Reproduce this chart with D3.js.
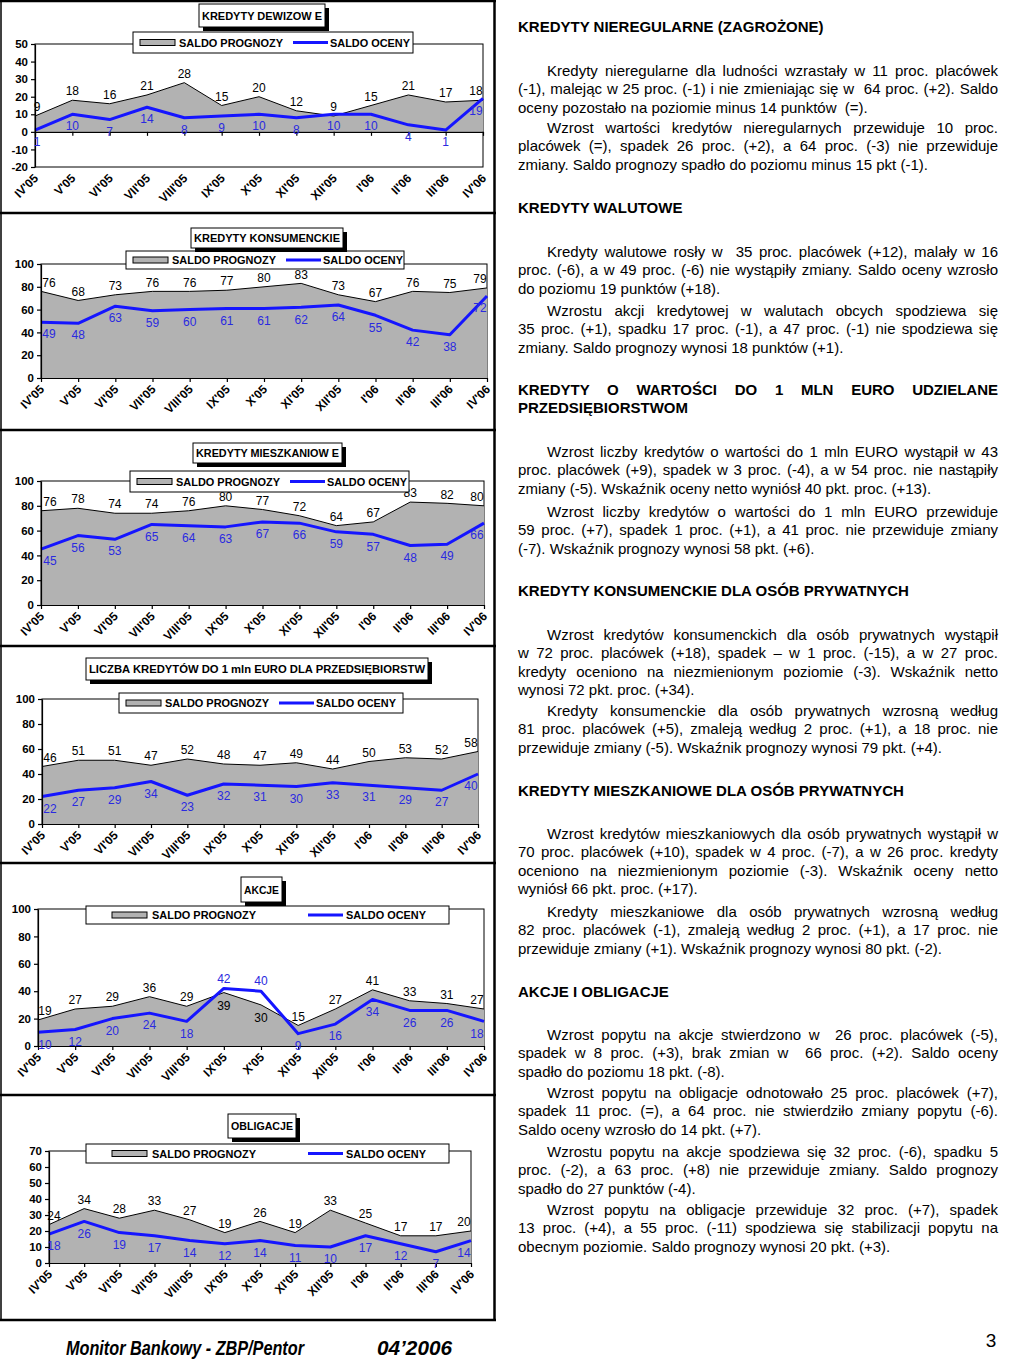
<!DOCTYPE html>
<html>
<head>
<meta charset="utf-8">
<script src="https://cdn.jsdelivr.net/npm/d3@7"></script>
<style>
  body { margin: 0; background: #fff; }
  #wrap { position: relative; width: 1024px; height: 1365px; }
  #page { position: absolute; left: 0; top: 0; }
  .tline {
    position: absolute; left: 518px; width: 480px; height: 18px; line-height: 18px;
    font-family: "Liberation Sans", Arial, sans-serif; font-size: 15px; color: #000;
    white-space: nowrap; text-align: left;
  }
  .tline.just { text-align: justify; text-align-last: justify; }
  .tline.head { font-weight: bold; }
</style>
</head>
<body>
<div id="wrap">
  <svg id="page" width="1024" height="1365"></svg>
</div>
<script>
// =====================================================
// Data
// =====================================================
const months = ["IV'05", "V'05", "VI'05", "VII'05", "VIII'05", "IX'05", "X'05",
                "XI'05", "XII'05", "I'06", "II'06", "III'06", "IV'06"];

const dewizowePrognoza      = [9, 18, 16, 21, 28, 15, 20, 12, 9, 15, 21, 17, 18];
const dewizoweOcena         = [1, 10, 7, 14, 8, 9, 10, 8, 10, 10, 4, 1, 19];
const konsumenckiePrognoza  = [76, 68, 73, 76, 76, 77, 80, 83, 73, 67, 76, 75, 79];
const konsumenckieOcena     = [49, 48, 63, 59, 60, 61, 61, 62, 64, 55, 42, 38, 72];
const mieszkaniowePrognoza  = [76, 78, 74, 74, 76, 80, 77, 72, 64, 67, 83, 82, 80];
const mieszkanioweOcena     = [45, 56, 53, 65, 64, 63, 67, 66, 59, 57, 48, 49, 66];
const przedsiebiorstwaPrognoza = [46, 51, 51, 47, 52, 48, 47, 49, 44, 50, 53, 52, 58];
const przedsiebiorstwaOcena    = [22, 27, 29, 34, 23, 32, 31, 30, 33, 31, 29, 27, 40];
const akcjePrognoza         = [19, 27, 29, 36, 29, 39, 30, 15, 27, 41, 33, 31, 27];
const akcjeOcena            = [10, 12, 20, 24, 18, 42, 40, 9, 16, 34, 26, 26, 18];
const obligacjePrognoza     = [24, 34, 28, 33, 27, 19, 26, 19, 33, 25, 17, 17, 20];
const obligacjeOcena        = [18, 26, 19, 17, 14, 12, 14, 11, 10, 17, 12, 7, 14];

const legendLabels = ["SALDO PROGNOZY", "SALDO OCENY"];

// layout of each panel (plot box, title box, legend box)
const charts = [
  { title: "KREDYTY DEWIZOW E", prognoza: dewizowePrognoza, ocena: dewizoweOcena,
    yMin: -20, yMax: 50, step: 10, top: 44, bottom: 167, left: 35, right: 483,
    tbox: [199, 4, 126, 23], lbox: [133, 32, 280, 21], wide: false, firstOff: 2, flip: [] },
  { title: "KREDYTY KONSUMENCKIE", prognoza: konsumenckiePrognoza, ocena: konsumenckieOcena,
    yMin: 0, yMax: 100, step: 20, top: 264, bottom: 378, left: 41, right: 487,
    tbox: [191, 228, 152, 20], lbox: [126, 251, 278, 18], wide: false, firstOff: 8, flip: [] },
  { title: "KREDYTY MIESZKANIOW E", prognoza: mieszkaniowePrognoza, ocena: mieszkanioweOcena,
    yMin: 0, yMax: 100, step: 20, top: 481, bottom: 605, left: 41, right: 484,
    tbox: [193, 443, 149, 20], lbox: [130, 471, 279, 21], wide: false, firstOff: 9, flip: [] },
  { title: "LICZBA KREDYTÓW  DO 1 mln EURO DLA PRZEDSIĘBIORSTW", prognoza: przedsiebiorstwaPrognoza, ocena: przedsiebiorstwaOcena,
    yMin: 0, yMax: 100, step: 20, top: 699, bottom: 824, left: 42, right: 478,
    tbox: [86, 658, 342, 22], lbox: [119, 693, 284, 20], wide: false, firstOff: 8, flip: [] },
  { title: "AKCJE", prognoza: akcjePrognoza, ocena: akcjeOcena,
    yMin: 0, yMax: 100, step: 20, top: 909, bottom: 1046, left: 38, right: 484,
    tbox: [241, 877, 41, 25], lbox: [86, 906, 363, 18], wide: true, firstOff: 7, flip: [5, 6] },
  { title: "OBLIGACJE", prognoza: obligacjePrognoza, ocena: obligacjeOcena,
    yMin: 0, yMax: 70, step: 10, top: 1151, bottom: 1263, left: 49, right: 471,
    tbox: [228, 1114, 68, 24], lbox: [86, 1144, 363, 19], wide: true, firstOff: 5, flip: [] }
];

// right column text: [first line centre y, type, lines]
const textBlocks = [
  [27, "head", ["KREDYTY NIEREGULARNE (ZAGROŻONE)"]],
  [71, "par", ["Kredyty nieregularne dla ludności wzrastały w 11 proc. placówek",
               "(-1), malejąc w 25 proc. (-1) i nie zmieniając się w  64 proc. (+2). Saldo",
               "oceny pozostało na poziomie minus 14 punktów  (=)."]],
  [128, "par", ["Wzrost wartości kredytów nieregularnych przewiduje 10 proc.",
                "placówek (=), spadek 26 proc. (+2), a 64 proc. (-3) nie przewiduje",
                "zmiany. Saldo prognozy spadło do poziomu minus 15 pkt (-1)."]],
  [208, "head", ["KREDYTY WALUTOWE"]],
  [252, "par", ["Kredyty walutowe rosły w  35 proc. placówek (+12), malały w 16",
                "proc. (-6), a w 49 proc. (-6) nie wystąpiły zmiany. Saldo oceny wzrosło",
                "do poziomu 19 punktów (+18)."]],
  [311, "par", ["Wzrostu akcji kredytowej w walutach obcych spodziewa się",
                "35 proc. (+1), spadku 17 proc. (-1), a 47 proc. (-1) nie spodziewa się",
                "zmiany. Saldo prognozy wynosi 18 punktów (+1)."]],
  [390, "head", ["KREDYTY O WARTOŚCI DO 1 MLN EURO UDZIELANE", "PRZEDSIĘBIORSTWOM"]],
  [452, "par", ["Wzrost liczby kredytów o wartości do 1 mln EURO wystąpił w 43",
                "proc. placówek (+9), spadek w 3 proc. (-4), a w 54 proc. nie nastąpiły",
                "zmiany (-5). Wskaźnik oceny netto wyniósł 40 pkt. proc. (+13)."]],
  [512, "par", ["Wzrost liczby kredytów o wartości do 1 mln EURO przewiduje",
                "59 proc. (+7), spadek 1 proc. (+1), a 41 proc. nie przewiduje zmiany",
                "(-7). Wskaźnik prognozy wynosi 58 pkt. (+6)."]],
  [591, "head", ["KREDYTY KONSUMENCKIE DLA OSÓB PRYWATNYCH"]],
  [635, "par", ["Wzrost kredytów konsumenckich dla osób prywatnych wystąpił",
                "w 72 proc. placówek (+18), spadek – w 1 proc. (-15), a w 27 proc.",
                "kredyty oceniono na niezmienionym poziomie (-3). Wskaźnik netto",
                "wynosi 72 pkt. proc. (+34)."]],
  [711, "par", ["Kredyty konsumenckie dla osób prywatnych wzrosną według",
                "81 proc. placówek (+5), zmaleją według 2 proc. (+1), a 18 proc. nie",
                "przewiduje zmiany (-5). Wskaźnik prognozy wynosi 79 pkt. (+4)."]],
  [791, "head", ["KREDYTY MIESZKANIOWE DLA OSÓB PRYWATNYCH"]],
  [834, "par", ["Wzrost kredytów mieszkaniowych dla osób prywatnych wystąpił w",
                "70 proc. placówek (+10), spadek w 4 proc. (-7), a w 26 proc. kredyty",
                "oceniono na niezmienionym poziomie (-3). Wskaźnik oceny netto",
                "wyniósł 66 pkt. proc. (+17)."]],
  [912, "par", ["Kredyty mieszkaniowe dla osób prywatnych wzrosną według",
                "82 proc. placówek (-1), zmaleją według 2 proc. (+1), a 17 proc. nie",
                "przewiduje zmiany (+1). Wskaźnik prognozy wynosi 80 pkt. (-2)."]],
  [992, "head", ["AKCJE I OBLIGACJE"]],
  [1035, "par", ["Wzrost popytu na akcje stwierdzono w  26 proc. placówek (-5),",
                 "spadek w 8 proc. (+3), brak zmian w  66 proc. (+2). Saldo oceny",
                 "spadło do poziomu 18 pkt. (-8)."]],
  [1093, "par", ["Wzrost popytu na obligacje odnotowało 25 proc. placówek (+7),",
                 "spadek 11 proc. (=), a 64 proc. nie stwierdziło zmiany popytu (-6).",
                 "Saldo oceny wzrosło do 14 pkt. (+7)."]],
  [1152, "par", ["Wzrostu popytu na akcje spodziewa się 32 proc. (-6), spadku 5",
                 "proc. (-2), a 63 proc. (+8) nie przewiduje zmiany. Saldo prognozy",
                 "spadło do 27 punktów (-4)."]],
  [1210, "par", ["Wzrost popytu na obligacje przewiduje 32 proc. (+7), spadek",
                 "13 proc. (+4), a 55 proc. (-11) spodziewa się stabilizacji popytu na",
                 "obecnym poziomie. Saldo prognozy wynosi 20 pkt. (+3)."]]
];

// =====================================================
// Drawing
// =====================================================
const FONT  = '"Liberation Sans", Arial, sans-serif';
const NARROW = '"Liberation Sans Narrow", "Arial Narrow", "Liberation Sans", Arial, sans-serif';
const GREY  = "#b2b2b2";
const BLUE  = "#1515ff";
const LBLUE = "#2a2ae0";
const svg   = d3.select("#page");

function drawChart(c) {
  const g = svg.append("g").style("font-family", FONT);
  const x = d3.scalePoint().domain(months).range([c.left, c.right]);
  const y = d3.scaleLinear().domain([c.yMin, c.yMax]).range([c.bottom, c.top]);
  const px = (d, i) => x(months[i]);

  // plot frame
  g.append("rect")
    .attr("x", c.left).attr("y", c.top)
    .attr("width", c.right - c.left).attr("height", c.bottom - c.top)
    .attr("fill", "#fff").attr("stroke", "#000").attr("stroke-width", 1);

  // grey area (prognoza) + its outline
  g.append("path").datum(c.prognoza)
    .attr("fill", GREY)
    .attr("d", d3.area().x(px).y0(y(0)).y1(d => y(d)));
  g.append("path").datum(c.prognoza)
    .attr("fill", "none").attr("stroke", "#000").attr("stroke-width", 1)
    .attr("d", d3.line().x(px).y(d => y(d)));

  // blue line (ocena)
  g.append("path").datum(c.ocena)
    .attr("fill", "none").attr("stroke", BLUE).attr("stroke-width", 3)
    .attr("stroke-linejoin", "round")
    .attr("d", d3.line().x(px).y(d => y(d)));

  // axes
  const yAxis = g.append("g")
    .attr("transform", `translate(${c.left},0)`)
    .call(d3.axisLeft(y).tickValues(d3.range(c.yMin, c.yMax + 1, c.step))
      .tickFormat(d => String(d))
      .tickSize(4).tickSizeOuter(0).tickPadding(3));
  yAxis.selectAll("text").style("font-size", "11.5px").style("font-weight", "bold").attr("fill", "#000");
  yAxis.selectAll("line, path").attr("stroke", "#000").attr("stroke-width", 1.2);

  const xAxis = g.append("g")
    .attr("transform", `translate(0,${y(0)})`)
    .call(d3.axisBottom(x).tickSize(4).tickSizeOuter(0).tickFormat(""));
  xAxis.selectAll("line, path").attr("stroke", "#000").attr("stroke-width", 1.2);

  g.selectAll(".xlab").data(months).enter().append("text")
    .attr("class", "xlab")
    .attr("transform", d => `translate(${x(d) + 1},${c.bottom + 9}) rotate(-45)`)
    .attr("text-anchor", "end").attr("dy", "0.35em")
    .style("font-size", "12px").style("font-weight", "bold")
    .text(d => d);

  // data labels
  const last = months.length - 1;
  const lx = i => x(months[i]) + (i === 0 ? c.firstOff : i === last ? -7 : 0);
  g.selectAll(".lp").data(c.prognoza).enter().append("text")
    .attr("x", (d, i) => lx(i))
    .attr("y", (d, i) => y(d) + (c.flip.includes(i) ? 13 : -9))
    .attr("dy", "0.35em").attr("text-anchor", "middle")
    .style("font-size", "12px").attr("fill", "#000")
    .text(d => d);
  g.selectAll(".lo").data(c.ocena).enter().append("text")
    .attr("x", (d, i) => lx(i))
    .attr("y", (d, i) => y(d) + (c.flip.includes(i) ? -10 : 12))
    .attr("dy", "0.35em").attr("text-anchor", "middle")
    .style("font-size", "12px").attr("fill", LBLUE)
    .text(d => d);

  // legend
  const [lx0, ly0, lw, lh] = c.lbox;
  const lg = g.append("g").attr("transform", `translate(${lx0},${ly0})`);
  lg.append("rect").attr("width", lw).attr("height", lh)
    .attr("fill", "#fff").attr("stroke", "#000").attr("stroke-width", 1);
  const off = c.wide ? { sw: 26, t1: 66, l1: 222, t2: 260 } : { sw: 7, t1: 46, l1: 160, t2: 197 };
  const my = lh / 2;
  lg.append("rect").attr("x", off.sw).attr("y", my - 3).attr("width", 35).attr("height", 6)
    .attr("fill", GREY).attr("stroke", "#000").attr("stroke-width", 1);
  lg.append("line").attr("x1", off.l1).attr("x2", off.l1 + 35).attr("y1", my).attr("y2", my)
    .attr("stroke", BLUE).attr("stroke-width", 3);
  lg.append("text").attr("x", off.t1).attr("y", my).attr("dy", "0.36em")
    .attr("textLength", 104).attr("lengthAdjust", "spacingAndGlyphs")
    .style("font-size", "11.5px").style("font-weight", "bold").text(legendLabels[0]);
  lg.append("text").attr("x", off.t2).attr("y", my).attr("dy", "0.36em")
    .attr("textLength", 80).attr("lengthAdjust", "spacingAndGlyphs")
    .style("font-size", "11.5px").style("font-weight", "bold").text(legendLabels[1]);

  // title box with shadow
  const [tx, ty, tw, th] = c.tbox;
  g.append("rect").attr("x", tx + 4).attr("y", ty + 4).attr("width", tw).attr("height", th).attr("fill", "#000");
  g.append("rect").attr("x", tx).attr("y", ty).attr("width", tw).attr("height", th)
    .attr("fill", "#fff").attr("stroke", "#000").attr("stroke-width", 1);
  g.append("text").attr("x", tx + tw / 2).attr("y", ty + th / 2).attr("dy", "0.36em")
    .attr("text-anchor", "middle")
    .attr("textLength", tw - 6).attr("lengthAdjust", "spacingAndGlyphs")
    .style("font-size", "11.5px").style("font-weight", "bold").text(c.title);
}

charts.forEach(drawChart);

// ----------
// Panel frames
// =================
const seps = [1, 213, 430, 646, 863, 1095, 1320];
svg.selectAll(".sep").data(seps).enter().append("line")
  .attr("x1", 0).attr("x2", 496).attr("y1", d => d).attr("y2", d => d)
  .attr("stroke", "#000").attr("stroke-width", 2.5);
svg.append("line").attr("x1", 494.5).attr("x2", 494.5).attr("y1", 0).attr("y2", 1321)
  .attr("stroke", "#000").attr("stroke-width", 2.5);
svg.append("line").attr("x1", 1).attr("x2", 1).attr("y1", 0).attr("y2", 1321)
  .attr("stroke", "#000").attr("stroke-width", 1.5);

// ----------
// Footer
// =================
svg.append("text").attr("x", 66).attr("y", 1355)
  .attr("textLength", 238).attr("lengthAdjust", "spacingAndGlyphs")
  .style("font-family", NARROW)
  .style("font-size", "20px").style("font-weight", "bold").style("font-style", "italic")
  .text("Monitor Bankowy - ZBP/Pentor");
svg.append("text").attr("x", 377).attr("y", 1355)
  .attr("textLength", 75).attr("lengthAdjust", "spacingAndGlyphs")
  .style("font-family", NARROW)
  .style("font-size", "20px").style("font-weight", "bold").style("font-style", "italic")
  .text("04’2006");
svg.append("text").attr("x", 991).attr("y", 1347).attr("text-anchor", "middle")
  .style("font-family", NARROW)
  .style("font-size", "19px")
  .text("3");

// ----------
// Right column text
// =================
const wrap = d3.select("#wrap");
textBlocks.forEach(([y0, type, lines]) => {
  lines.forEach((line, i) => {
    const isLast = i === lines.length - 1;
    const justify = type === "head" ? (lines.length > 1 && !isLast) : !isLast;
    const indent = (type === "par" && i === 0) ? 29 : 0;
    const div = wrap.append("div")
      .attr("class", "tline" + (type === "head" ? " head" : ""))
      .style("top", (y0 + i * 18.3 - 9) + "px")
      .style("text-indent", indent + "px");
    // keep the double spaces of the original
    const span = div.append("span").text(line.replace(/  /g, "\u00a0 "));
    // squeeze word spacing when the natural line is wider than the column
    const natural = span.node().getBoundingClientRect().width;
    const room = 480 - indent;
    const spaces = (line.match(/ +/g) || []).length;
    if (natural > room && spaces > 0) {
      div.style("word-spacing", ((room - natural) / spaces - 0.2) + "px");
    }
    if (justify) div.classed("just", true);
  });
});
</script>
</body>
</html>
